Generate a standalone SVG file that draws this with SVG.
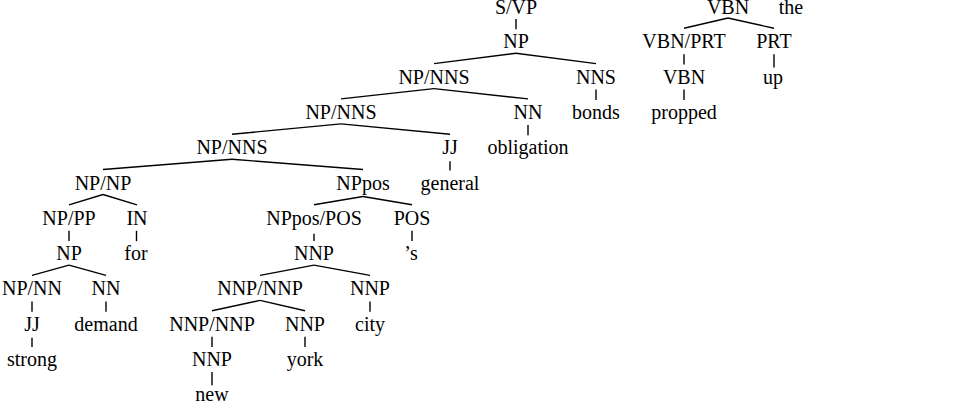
<svg xmlns="http://www.w3.org/2000/svg" width="971" height="404" viewBox="0 0 971 404" font-family="'Liberation Serif', 'Times New Roman', Times, serif">
<style>
text{font-family:'Liberation Serif','Times New Roman',Times,serif;font-size:20px;fill:#000;text-anchor:middle}
#connectors line{stroke:#000;stroke-width:1.4;stroke-linecap:butt}
</style>
<rect width="971" height="404" fill="#fff"/>
<g id="connectors">
<line x1="516" y1="19" x2="516" y2="29.3"/>
<line x1="516" y1="53.3" x2="434" y2="63.6"/>
<line x1="516" y1="53.3" x2="596" y2="63.6"/>
<line x1="596" y1="89.6" x2="596" y2="99.9"/>
<line x1="434" y1="88.6" x2="341" y2="98.9"/>
<line x1="434" y1="88.6" x2="528" y2="98.9"/>
<line x1="528" y1="124.9" x2="528" y2="135.2"/>
<line x1="341" y1="123.9" x2="232" y2="134.2"/>
<line x1="341" y1="123.9" x2="450" y2="134.2"/>
<line x1="450" y1="161.2" x2="450" y2="170.5"/>
<line x1="232" y1="159.2" x2="103" y2="169.5"/>
<line x1="232" y1="159.2" x2="363" y2="169.5"/>
<line x1="103" y1="194.5" x2="69" y2="204.8"/>
<line x1="103" y1="194.5" x2="137" y2="204.8"/>
<line x1="363" y1="196.5" x2="314" y2="204.8"/>
<line x1="363" y1="196.5" x2="412" y2="204.8"/>
<line x1="69" y1="230.8" x2="69" y2="241.1"/>
<line x1="136.5" y1="230.8" x2="136.5" y2="241.1"/>
<line x1="314" y1="233.8" x2="314" y2="241.1"/>
<line x1="412" y1="230.8" x2="412" y2="241.1"/>
<line x1="69" y1="265.1" x2="32" y2="275.4"/>
<line x1="69" y1="265.1" x2="106" y2="275.4"/>
<line x1="314" y1="265.1" x2="260" y2="275.4"/>
<line x1="314" y1="265.1" x2="370" y2="275.4"/>
<line x1="32" y1="301.4" x2="32" y2="311.7"/>
<line x1="106" y1="301.4" x2="106" y2="311.7"/>
<line x1="370" y1="301.4" x2="370" y2="311.7"/>
<line x1="260" y1="300.4" x2="212" y2="310.7"/>
<line x1="260" y1="300.4" x2="305" y2="310.7"/>
<line x1="32" y1="337.7" x2="32" y2="347"/>
<line x1="212" y1="336.7" x2="212" y2="347"/>
<line x1="305" y1="336.7" x2="305" y2="347"/>
<line x1="212" y1="372" x2="212" y2="385.3"/>
<line x1="728" y1="18" x2="684" y2="28.3"/>
<line x1="728" y1="18" x2="774" y2="28.3"/>
<line x1="684" y1="54.3" x2="684" y2="64.6"/>
<line x1="774" y1="54.3" x2="774" y2="67.6"/>
<line x1="684" y1="89.6" x2="684" y2="99.9"/>
</g>
<g id="n_svp"><text x="516" y="13.5">S/VP</text></g>
<g id="n_np1"><text x="516" y="48.3">NP</text></g>
<g id="n_npnns2"><text x="434" y="83.6">NP/NNS</text></g>
<g id="n_nns"><text x="596" y="83.6">NNS</text></g>
<g id="n_npnns3"><text x="341" y="118.9">NP/NNS</text></g>
<g id="n_nn3"><text x="528" y="118.9">NN</text></g>
<g id="n_bonds"><text x="596" y="118.9">bonds</text></g>
<g id="n_npnns4"><text x="232" y="154.2">NP/NNS</text></g>
<g id="n_jj4"><text x="450" y="154.2">JJ</text></g>
<g id="n_obligation"><text x="528" y="154.2">obligation</text></g>
<g id="n_npnp"><text x="103" y="189.5">NP/NP</text></g>
<g id="n_nppos"><text x="363" y="189.5">NPpos</text></g>
<g id="n_general"><text x="450" y="189.5">general</text></g>
<g id="n_nppp"><text x="69" y="224.8">NP/PP</text></g>
<g id="n_in"><text x="137" y="224.8">IN</text></g>
<g id="n_npposPOS"><text x="314" y="224.8">NPpos/POS</text></g>
<g id="n_pos"><text x="412" y="224.8">POS</text></g>
<g id="n_np7"><text x="69" y="260.1">NP</text></g>
<g id="n_for"><text x="136" y="260.1">for</text></g>
<g id="n_nnp7"><text x="314" y="260.1">NNP</text></g>
<g id="n_s"><text x="411" y="260.1">’s</text></g>
<g id="n_npnn"><text x="32" y="295.4">NP/NN</text></g>
<g id="n_nn8"><text x="106" y="295.4">NN</text></g>
<g id="n_nnpnnp8"><text x="260" y="295.4">NNP/NNP</text></g>
<g id="n_nnp8"><text x="370" y="295.4">NNP</text></g>
<g id="n_jj9"><text x="32" y="330.7">JJ</text></g>
<g id="n_demand"><text x="106" y="330.7">demand</text></g>
<g id="n_nnpnnp9"><text x="212" y="330.7">NNP/NNP</text></g>
<g id="n_nnp9"><text x="305" y="330.7">NNP</text></g>
<g id="n_city"><text x="370" y="330.7">city</text></g>
<g id="n_strong"><text x="32" y="366">strong</text></g>
<g id="n_nnp10"><text x="212" y="366">NNP</text></g>
<g id="n_york"><text x="305" y="366">york</text></g>
<g id="n_new"><text x="212" y="401.3">new</text></g>
<g id="v_vbn0"><text x="728" y="13.5">VBN</text></g>
<g id="v_the"><text x="791" y="13.5">the</text></g>
<g id="v_vbnprt"><text x="684" y="48.3">VBN/PRT</text></g>
<g id="v_prt"><text x="774" y="48.3">PRT</text></g>
<g id="v_vbn2"><text x="684" y="83.6">VBN</text></g>
<g id="v_up"><text x="773" y="83.6">up</text></g>
<g id="v_propped"><text x="684" y="118.9">propped</text></g>
</svg>
